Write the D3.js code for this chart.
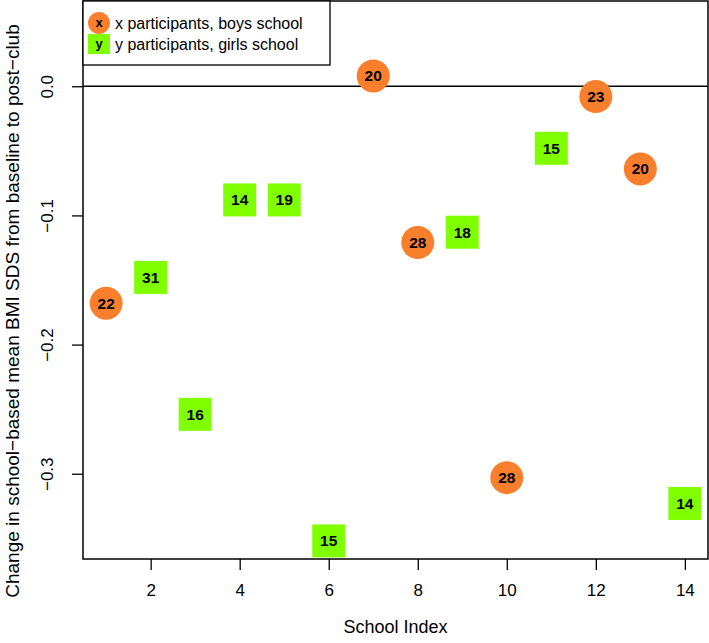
<!DOCTYPE html>
<html><head><meta charset="utf-8">
<script src="https://cdn.jsdelivr.net/npm/d3@7"></script>
<style>body{margin:0;background:#fff}svg{display:block}text{font-family:"Liberation Sans",Arial,Helvetica,sans-serif}</style>
</head><body>
<svg id="c" width="709" height="643"></svg>
<script>
const schoolIndex = [1,2,3,4,5,6,7,8,9,10,11,12,13,14];
const bmiChange   = [-0.168,-0.148,-0.254,-0.088,-0.088,-0.352,0.008,-0.121,-0.113,-0.303,-0.048,-0.008,-0.064,-0.323];
const participants = [22,31,16,14,19,15,20,28,18,28,15,23,20,14];
const schoolType = ["boys","girls","girls","girls","girls","girls","boys","boys","girls","boys","girls","boys","boys","girls"];
const xTicks = [2,4,6,8,10,12,14];
const yTicks = [0.0,-0.1,-0.2,-0.3];
const legendLabels = ["x participants, boys school","y participants, girls school"];
const legendSymbols = ["x","y"];
const xDomain = [0.48,14.52];
const yDomain = [-0.366,0.066];

const orange = "#FA7F2C", green = "#7FFF00";
const svg = d3.select("#c");
const L = 83, R = 708, T = 1, B = 559;
const x = d3.scaleLinear().domain(xDomain).range([L,R]);
const y = d3.scaleLinear().domain(yDomain).range([B,T]);
const FONT = '"Liberation Sans",Arial,sans-serif';

const xa = svg.append("g").attr("transform",`translate(0,${B})`)
  .call(d3.axisBottom(x).tickValues(xTicks).tickSize(11).tickPadding(14).tickFormat(d3.format("d")));
const ya = svg.append("g").attr("transform",`translate(${L},0)`)
  .call(d3.axisLeft(y).tickValues(yTicks).tickSize(11).tickFormat(d => d3.format(".1f")(d).replace("-","\u2212")));
[xa,ya].forEach(a=>{a.select(".domain").remove();a.selectAll("line").attr("stroke","#000").attr("stroke-width",1.3);
  a.selectAll("text").attr("font-size",17).attr("fill","#000").style("font-family",FONT);});
ya.selectAll(".tick text").attr("x",null).attr("dy","0.35em").attr("text-anchor","middle")
  .attr("transform","translate(-36,0) rotate(-90)");

svg.append("line").attr("x1",L).attr("x2",R).attr("y1",y(0)).attr("y2",y(0)).attr("stroke","#000").attr("stroke-width",1.3);

const data = schoolIndex.map((s,i)=>({s,v:bmiChange[i],n:participants[i],t:schoolType[i]}));
const g = svg.append("g");
data.forEach(d=>{
  const cx=x(d.s), cy=y(d.v);
  if(d.t==="boys") g.append("circle").attr("cx",cx).attr("cy",cy).attr("r",16.5).attr("fill",orange);
  else g.append("rect").attr("x",cx-16.5).attr("y",cy-16.5).attr("width",33).attr("height",33).attr("fill",green);
  g.append("text").attr("x",cx).attr("y",cy).attr("dy","0.36em").attr("text-anchor","middle")
   .attr("font-size",15.5).attr("font-weight","bold").text(d.n);
});

svg.append("rect").attr("x",L).attr("y",T).attr("width",R-L).attr("height",B-T).attr("fill","none").attr("stroke","#000").attr("stroke-width",1.5);

const lg = svg.append("g");
lg.append("rect").attr("x",L).attr("y",T).attr("width",247).attr("height",64).attr("fill","#fff").attr("stroke","#000").attr("stroke-width",1.3);
lg.append("circle").attr("cx",99).attr("cy",23).attr("r",11).attr("fill",orange);
lg.append("rect").attr("x",88).attr("y",34).attr("width",22).attr("height",20).attr("fill",green);
[23,44].forEach((cy,i)=>{
  lg.append("text").attr("x",99).attr("y",cy).attr("dy","0.33em").attr("text-anchor","middle").attr("font-size",13).attr("font-weight","bold").text(legendSymbols[i]);
  lg.append("text").attr("x",115).attr("y",cy).attr("dy","0.35em").attr("font-size",16).text(legendLabels[i]);
});

svg.append("text").attr("x",(L+R)/2).attr("y",633).attr("text-anchor","middle").attr("font-size",18).text("School Index");
svg.append("text").attr("transform",`translate(12,311) rotate(-90)`).attr("dy","0.35em").attr("text-anchor","middle").attr("font-size",19)
  .text("Change in school\u2212based mean BMI SDS from baseline to post\u2212club");
</script>
</body></html>
